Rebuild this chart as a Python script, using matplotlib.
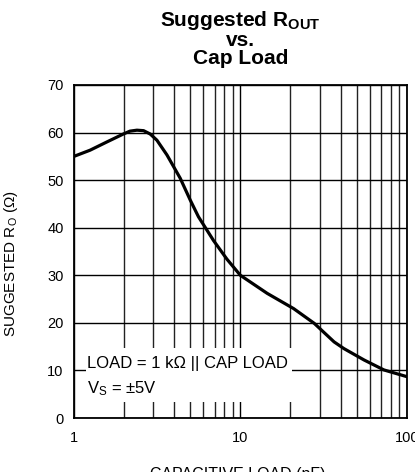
import numpy as np
import matplotlib
matplotlib.use("Agg")
import matplotlib.pyplot as plt
from matplotlib.ticker import LogLocator, NullFormatter
from matplotlib.patches import Rectangle

plt.rcParams['font.family'] = ['Liberation Sans', 'DejaVu Sans']
plt.rcParams['mathtext.fontset'] = 'custom'
plt.rcParams['mathtext.rm'] = 'Liberation Sans'
plt.rcParams['mathtext.it'] = 'Liberation Sans'
plt.rcParams['mathtext.bf'] = 'Liberation Sans:bold'

# curve (cap load in pF, suggested Ro in ohm)
cap_load = [1, 1.25, 1.57, 1.98, 2.17, 2.39, 2.62, 2.87, 3.15, 3.62, 4.35, 5.0,
            5.6, 6.9, 8.3, 10, 14.5, 20.9, 27.8, 36.6, 41.9, 55.4, 73, 100]
r_out = [55.0, 56.3, 58.0, 59.7, 60.3, 60.5, 60.4, 59.7, 58.4, 55.3, 50.4, 45.8,
         42.3, 37.3, 33.4, 30.0, 26.2, 23.0, 19.9, 16.0, 14.6, 12.2, 10.1, 8.7]

x_ticks = [1, 10, 100]
x_tick_labels = ['1', '10', '100']
y_ticks = [0, 10, 20, 30, 40, 50, 60, 70]

W, H = 415, 472
fig = plt.figure(figsize=(W / 100, H / 100), dpi=100)
ax = fig.add_axes([74 / W, 1 - 418 / H, 332.7 / W, 333 / H])

ax.set_xscale('log')
ax.set_xlim(1, 100)
ax.set_ylim(0, 70)
ax.set_xticks(x_ticks)
ax.set_xticklabels(x_tick_labels)
ax.xaxis.set_minor_locator(LogLocator(base=10, subs=np.arange(2, 10)))
ax.xaxis.set_minor_formatter(NullFormatter())
ax.set_yticks(y_ticks)

ax.grid(True, which='major', color='black', linewidth=1.0)
ax.grid(True, which='minor', axis='x', color='#222222', linewidth=1.0)
ax.tick_params(which='both', length=0, labelsize=10.5)
ax.tick_params(axis='y', pad=7.5)
ax.tick_params(axis='x', pad=9)
ax.set_axisbelow(True)
for s in ax.spines.values():
    s.set_linewidth(1.3)

ax.plot(cap_load, r_out, color='black', linewidth=2.3, zorder=3)

# white note box over the grid
ax.add_patch(Rectangle((0.036, 0.048), 0.619, 0.162, transform=ax.transAxes,
                       facecolor='white', edgecolor='none', zorder=2))
ax.text(0.039, 0.150, 'LOAD = 1 k\u03a9 || CAP LOAD', transform=ax.transAxes,
        fontsize=12, va='baseline', ha='left', zorder=4)
ax.text(0.039, 0.075, 'V$_\\mathregular{S}$ = \u00b15V', transform=ax.transAxes,
        fontsize=12, va='baseline', ha='left', zorder=4)

fig.text(11 / W, 1 - 264 / H, 'SUGGESTED R$_\\mathregular{O}$ (\u03a9)', rotation=90,
         ha='center', va='center', fontsize=11)
fig.text(238 / W, 1 - 479 / H, 'CAPACITIVE LOAD (pF)', ha='center', va='baseline',
         fontsize=11.5)

cx = (74 + 332.7 / 2) / W
fig.text(cx, 1 - 9 / H, 'Suggested R$_\\mathregular{OUT}$\nvs.\nCap Load', ha='center',
         va='top', multialignment='center', fontsize=15, fontweight='bold', linespacing=0.95)

fig.savefig('out.png', dpi=100)
